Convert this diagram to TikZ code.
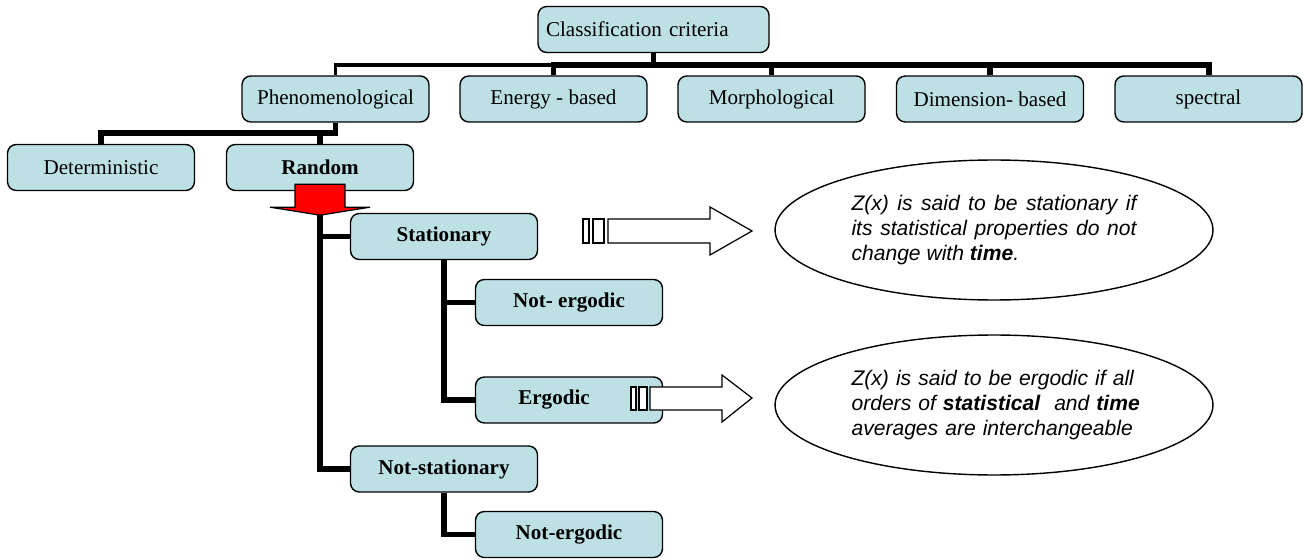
\documentclass[tikz,border=0pt]{standalone}
\usepackage{fontspec}
\setmainfont{Liberation Serif}
\setsansfont{Liberation Sans}
\usepackage{tikz}
\usetikzlibrary{calc,positioning,shapes.geometric}
\definecolor{boxcol}{RGB}{188,224,227}

\begin{document}
\begin{tikzpicture}[x=0.02cm,y=-0.02cm,
  box/.style={draw,line width=0.8pt,rounded corners=5pt,fill=boxcol,
    minimum width=3.74cm,minimum height=0.92cm,inner sep=2pt,
    font=\fontsize{12}{14}\selectfont},
  boldbox/.style={box,font=\fontsize{12}{14}\selectfont\bfseries},
  conn/.style={line width=3.4pt},
  connthin/.style={line width=2pt},
  note/.style={draw,ellipse,line width=0.8pt,inner sep=0pt,
    minimum width=8.76cm,minimum height=2.8cm,text width=5.7cm,
    font=\fontsize{12}{14.2}\selectfont\sffamily\itshape},
  hollow/.style={draw,line width=0.7pt,fill=white}]
  \useasboundingbox (0,0) rectangle (1304,560);
  \node[box,minimum width=4.62cm,text width=4.3cm,align=left] (cc) at (653.5,29.5) {Classification criteria};
  \node[box] (phen) at (335.5,99) {Phenomenological};
  \node[box] (ener) at (553.5,99) {Energy - based};
  \node[box] (morph) at (771.5,99) {Morphological};
  \node[box] (dim) at (990,99) {Dimension- based};
  \node[box] (spec) at (1208.5,99) {spectral};
  \node[box] (det) at (101,167.5) {Deterministic};
  \node[boldbox] (rand) at (320,167.5) {Random};
  \node[boldbox] (stat) at (444,236.5) {Stationary};
  \node[boldbox] (nerg) at (569,302.5) {Not- ergodic};
  \node[boldbox] (erg) at (569,400) {Ergodic\hspace*{0.6cm}};
  \node[boldbox] (nstat) at (444,469) {Not-stationary};
  \node[boldbox] (nerg2) at (569,534.5) {Not-ergodic};
  % tree bars
  \coordinate (bar) at (0,65);
  \coordinate (bar2) at (0,133);
  \draw[conn] (cc.south) -- (cc.south |- bar) -| (morph.north);
  \draw[conn] (cc.south |- bar) -| (dim.north);
  \draw[conn] (cc.south |- bar) -| (spec.north);
  \draw[conn] (cc.south |- bar) -| (ener.north);
  \draw[connthin] (ener.north |- bar) -| (phen.north);
  \draw[conn] (phen.south) -- (phen.south |- bar2) -| (det.north);
  \draw[conn] (phen.south |- bar2) -| (rand.north);
  \draw[conn] (rand.south) -- (rand.south |- nstat.west) -- (nstat.west);
  \draw[conn] (rand.south |- stat.west) -- (stat.west);
  \draw[conn] (stat.south) |- (erg.west);
  \draw[conn] (stat.south |- nerg.west) -- (nerg.west);
  \draw[conn] (nstat.south) |- (nerg2.west);
  % red block arrow under Random
  \draw[line width=0.7pt,fill=red] ([shift={(-25,-7)}]rand.south) -- ++(0,23) -- ++(-25,0)
    -- ++(50,8) -- ++(50,-8) -- ++(-25,0) -- ++(0,-23) -- cycle;
  % striped arrows
  \draw[hollow] (583,219) rectangle (589,243);
  \draw[hollow] (593,219) rectangle (604,243);
  \draw[hollow] (608,219) -- (710,219) -- (710,207) -- (752,231) -- (710,255) -- (710,243) -- (608,243) -- cycle;
  \draw[hollow] (631,387) rectangle (636,410);
  \draw[hollow] (639,387) rectangle (647,410);
  \draw[hollow] (650,387) -- (722,387) -- (722,375) -- (752,398) -- (722,422) -- (722,410) -- (650,410) -- cycle;
  \node[note,align=justify] (estat) at (994,230) {Z(x) is said to be stationary if\linebreak its statistical properties do not\linebreak change with \textbf{time}.};
  \node[note,align=left] (eerg) at (994,405) {Z(x) is said to be ergodic if all\\ \mbox{orders of \textbf{statistical}\ \ and \textbf{time}}\\ averages are interchangeable};
\end{tikzpicture}
\end{document}
